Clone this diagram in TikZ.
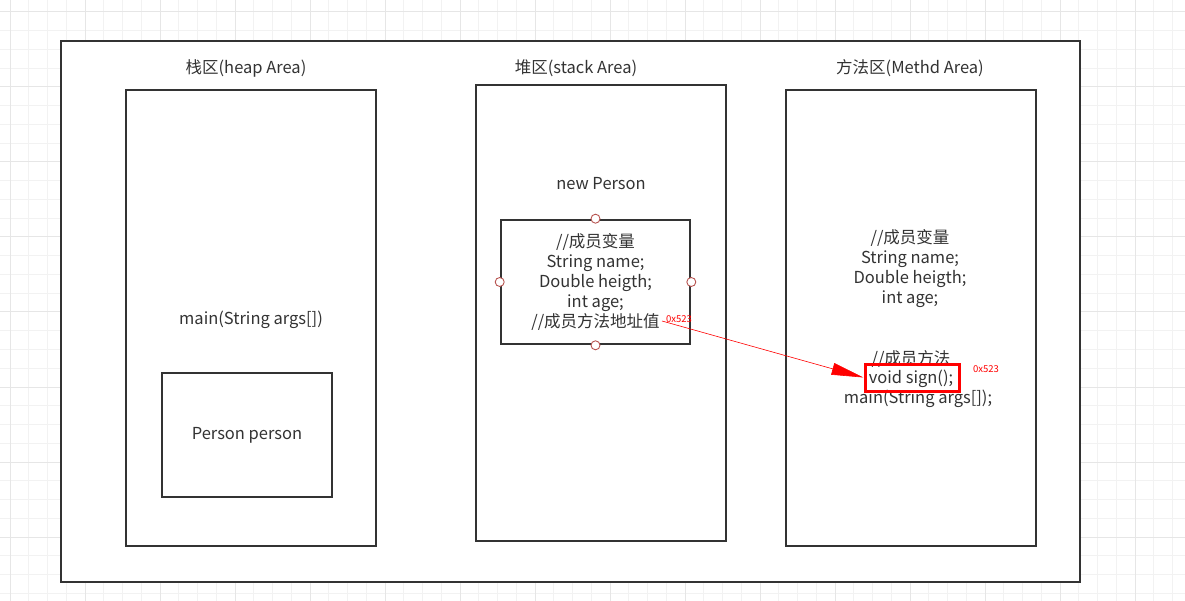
\documentclass[tikz,border=0pt]{standalone}
\usepackage{fontspec}
\setmainfont{Noto Sans CJK SC}
\usetikzlibrary{positioning,arrows.meta}

\definecolor{framegray}{HTML}{333333}
\definecolor{textgray}{HTML}{333333}
\definecolor{gridminor}{HTML}{F2F2F2}
\definecolor{gridmajor}{HTML}{E6E6E6}
\definecolor{handlered}{HTML}{B85450}

\begin{document}
\begin{tikzpicture}[x=1pt,y=-1pt,
    area/.style={rectangle,draw=framegray,line width=2.6pt,fill=white,
		inner sep=0pt},
    obj/.style={rectangle,draw=framegray,line width=2.6pt,fill=white,
		align=center,inner sep=0pt,text=textgray,
		font=\fontsize{16.5}{20}\selectfont},
    txt/.style={text=textgray,align=center,inner sep=0pt,
		font=\fontsize{16.5}{20}\selectfont},
% small red address labels
    addrlabel/.style={text=red,inner sep=0pt,font=\fontsize{9.5}{10}\selectfont},
    handle/.style={circle,draw=handlered,fill=white,line width=0.9pt,
		minimum size=9pt,inner sep=0pt},
    markbox/.style={rectangle,draw=red,line width=3pt,inner sep=0pt},
    ptr/.style={draw=red,line width=0.6pt,-{Triangle[length=32pt,width=12pt]}}
    ]
   \useasboundingbox (0,0) rectangle (1185,601);
%%% background grid
   \fill[white] (0,0) rectangle (1185,601);
   \foreach \i in {0,...,63}
      \draw[gridminor,line width=1pt] ({10+18.75*\i},0) -- ({10+18.75*\i},601);
   \foreach \i in {0,...,32}
      \draw[gridminor,line width=1pt] (0,{12+18.75*\i}) -- (1185,{12+18.75*\i});
   \foreach \i in {0,...,15}
      \draw[gridmajor,line width=1pt] ({10+75*\i},0) -- ({10+75*\i},601);
   \foreach \i in {0,...,8}
      \draw[gridmajor,line width=1pt] (0,{12+75*\i}) -- (1185,{12+75*\i});

%%% memory areas
   \node [area, minimum width=1019pt, minimum height=541pt] (jvm) at (570.5,311.5) {};

   \node [area, minimum width=250pt, minimum height=456pt] (heap) at (251,318) {};
   \node [area, minimum width=250pt, minimum height=456pt] (stack) at (601,313) {};
   \node [area, minimum width=250pt, minimum height=456pt] (method) at (911,318) {};

   \node [txt] (heaptitle) at (246,68) {栈区(heap Area)};
   \node [txt] (stacktitle) at (576,68) {堆区(stack Area)};
   \node [txt] (methodtitle) at (910,68) {方法区(Methd Area)};

%%% stack frame
   \node [txt] (mainframe) at (251,320) {main(String args[])};
   \node [obj, minimum width=170pt, minimum height=124pt] (person) at (247,435) {Person person};

%%% object on the heap
   \node [txt] (newperson) at (601,184) {new Person};
   \node [obj, minimum width=189pt, minimum height=124pt] (personobj) at (595.5,282)
      {//成员变量\\String name;\\Double heigth;\\int age;\\//成员方法地址值};
   \node [handle] (hn) at (personobj.north) {};
   \node [handle] (hs) at (personobj.south) {};
   \node [handle] (hw) at (personobj.west) {};
   \node [handle] (he) at (personobj.east) {};
   \coordinate (addr) at (662,321);
   \node [addrlabel] (addrleft) at (679,319) {0x523};

%%% class info in method area
   \node [txt] (fields) at (910,269) {//成员变量\\String name;\\Double heigth;\\int age;};
   \node [txt] (methods) at (911,359) {//成员方法};
   \node [txt] (signtext) at (911,379) {void sign();};
   \node [txt] (maintext) at (918,399) {main(String args[]);};
   \node [markbox, minimum width=94pt, minimum height=27pt] (sign) at (912,377.5) {};
   \node [addrlabel] (addrright) at (986,369) {0x523};

   \draw [ptr] (addr) -- (sign.west);
\end{tikzpicture}
\end{document}
